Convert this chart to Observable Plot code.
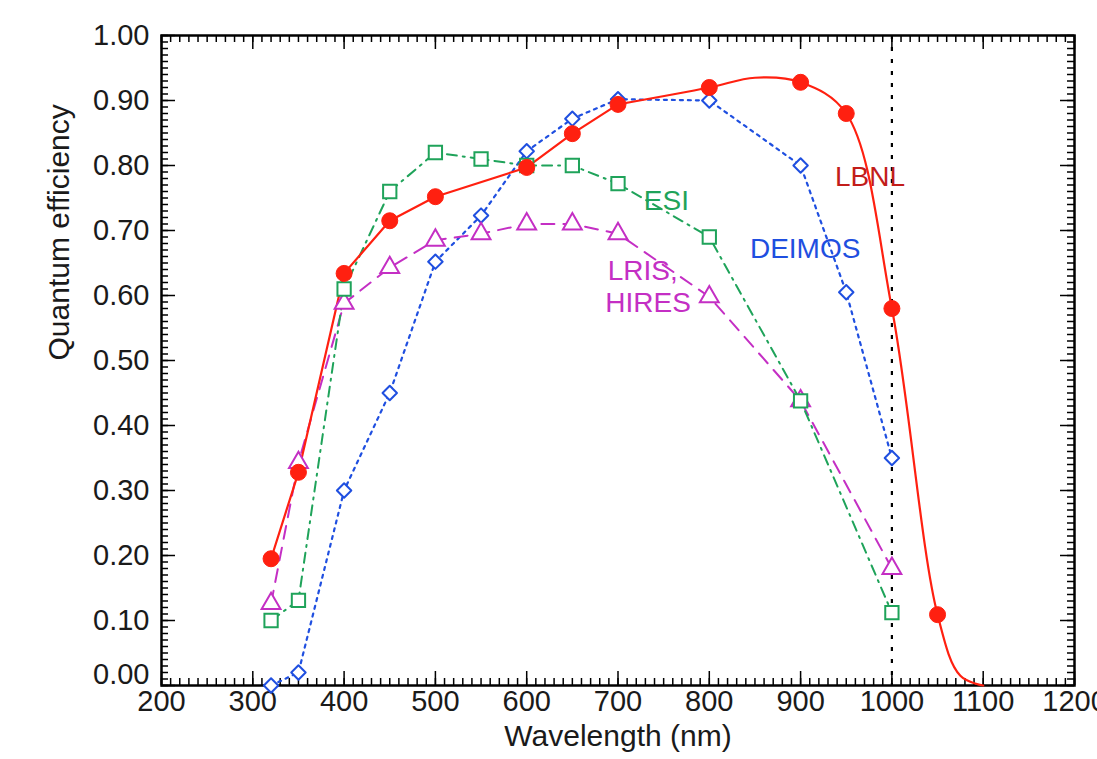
<!DOCTYPE html>
<html>
<head>
<meta charset="utf-8">
<script src="https://cdn.jsdelivr.net/npm/d3@7"></script>
<script src="https://cdn.jsdelivr.net/npm/@observablehq/plot@0.6"></script>
<style>
  html, body { margin: 0; padding: 0; background: #ffffff; }
  #chart svg { display: block; }
</style>
</head>
<body>
<div id="chart"></div>
<script>
// ---- Data ----
const lbnlWl = [320, 350, 400, 450, 500, 600, 650, 700, 800, 900, 950, 1000, 1050];
const lbnlQe = [0.195, 0.328, 0.634, 0.715, 0.752, 0.797, 0.849, 0.894, 0.920, 0.928, 0.880, 0.580, 0.109];
// extra points (no markers there)
const lbnlCurveWl = [850, 1075, 1100];
const lbnlCurveQe = [0.935, 0.015, 0.0];

const esiWl = [320, 350, 400, 450, 500, 550, 600, 650, 700, 800, 900, 1000];
const esiQe = [0.100, 0.131, 0.610, 0.760, 0.820, 0.810, 0.800, 0.800, 0.772, 0.690, 0.438, 0.112];

const lrisWl = [320, 350, 400, 450, 500, 550, 600, 650, 700, 800, 900, 1000];
const lrisQe = [0.126, 0.343, 0.588, 0.643, 0.685, 0.695, 0.710, 0.710, 0.695, 0.598, 0.438, 0.180];

const deimosWl = [320, 350, 400, 450, 500, 550, 600, 650, 700, 800, 900, 950, 1000];
const deimosQe = [0.000, 0.020, 0.300, 0.450, 0.652, 0.723, 0.822, 0.872, 0.902, 0.900, 0.800, 0.605, 0.350];

const cutoffWl = [1000];

const xMajorTicks = d3.range(200, 1201, 100);
const xMinorTicks = d3.range(200, 1201, 10);
const yMajorTicks = d3.range(0, 11).map(i => i / 10);
const yMinorTicks = d3.range(0, 101).map(i => i / 100);

const seriesLabels = [
  {name: "LBNL", wl: 976, qe: 0.782, color: "#c21d1a"},
  {name: "ESI", wl: 753, qe: 0.746, color: "#1fa35a"},
  {name: "DEIMOS", wl: 905, qe: 0.672, color: "#1f4fe0"},
  {name: "LRIS,", wl: 727, qe: 0.638, color: "#c42fc4"},
  {name: "HIRES", wl: 733, qe: 0.589, color: "#c42fc4"}
];

const colors = {lbnl: "#ff2010", esi: "#1fa35a", lris: "#c42fc4", deimos: "#1f4fe0"};

// ---- Build tables ----
const zip = (xs, ys) => xs.map((x, i) => ({wl: x, qe: ys[i]}));
const lbnl = zip(lbnlWl, lbnlQe);
const lbnlCurve = lbnl.concat(zip(lbnlCurveWl, lbnlCurveQe)).sort((a, b) => a.wl - b.wl);
const lbnlLow = lbnlCurve.filter(d => d.wl <= 700);   // straight segments in the blue
const lbnlHigh = lbnlCurve.filter(d => d.wl >= 700);  // smooth fit in the red / IR
const esi = zip(esiWl, esiQe);
const lris = zip(lrisWl, lrisQe);
const deimos = zip(deimosWl, deimosQe);

const W = 1097, H = 759;
const mL = 161, mR = 23, mT = 35, mB = 74;
const pw = W - mL - mR, ph = H - mT - mB;
const minorLen = 7, majorLen = 14;
const txt = "#1a1a1a";

const chart = Plot.plot({
  width: W,
  height: H,
  marginLeft: mL,
  marginRight: mR,
  marginTop: mT,
  marginBottom: mB,
  x: {domain: [200, 1200], axis: null},
  y: {domain: [0, 1], axis: null},
  style: {
    fontFamily: "'Liberation Sans', Arial, Helvetica, sans-serif",
    fontSize: "29px",
    background: "#ffffff",
    color: txt,
    overflow: "visible"
  },
  marks: [
    // inward ticks on all four sides
    Plot.tickX(xMinorTicks, {x: d => d, insetTop: ph - minorLen, stroke: "black", strokeWidth: 1.5}),
    Plot.tickX(xMajorTicks, {x: d => d, insetTop: ph - majorLen, stroke: "black", strokeWidth: 1.5}),
    Plot.tickX(xMinorTicks, {x: d => d, insetBottom: ph - minorLen, stroke: "black", strokeWidth: 1.5}),
    Plot.tickX(xMajorTicks, {x: d => d, insetBottom: ph - majorLen, stroke: "black", strokeWidth: 1.5}),
    Plot.tickY(yMinorTicks, {y: d => d, insetRight: pw - minorLen, stroke: "black", strokeWidth: 1.5}),
    Plot.tickY(yMajorTicks, {y: d => d, insetRight: pw - majorLen, stroke: "black", strokeWidth: 1.5}),
    Plot.tickY(yMinorTicks, {y: d => d, insetLeft: pw - minorLen, stroke: "black", strokeWidth: 1.5}),
    Plot.tickY(yMajorTicks, {y: d => d, insetLeft: pw - majorLen, stroke: "black", strokeWidth: 1.5}),
    Plot.frame({stroke: "black", strokeWidth: 2.5}),

    // tick labels
    Plot.text(xMajorTicks, {x: d => d, frameAnchor: "bottom", dy: 25, text: d => String(d), fill: txt}),
    Plot.text(yMajorTicks.filter(d => d > 0), {y: d => d, frameAnchor: "left", dx: -12, textAnchor: "end", text: d => d.toFixed(2), fill: txt}),
    Plot.text(yMajorTicks.filter(d => d === 0), {y: d => d, frameAnchor: "left", dx: -12, dy: -11, textAnchor: "end", text: d => d.toFixed(2), fill: txt}),

    // axis titles
    Plot.text(["Wavelength (nm)"], {frameAnchor: "bottom", dy: 60, text: d => d, fontSize: 30, fill: txt}),
    Plot.text(["Quantum efficiency"], {frameAnchor: "left", dx: -102, rotate: -90, text: d => d, fontSize: 30, fill: txt}),

    // 1000 nm cutoff
    Plot.ruleX(cutoffWl, {x: d => d, stroke: "black", strokeWidth: 2.2, strokeDasharray: "4,8"}),

    // series lines
    Plot.line(deimos, {x: "wl", y: "qe", stroke: colors.deimos, strokeWidth: 2.2, strokeDasharray: "3,5"}),
    Plot.line(lris, {x: "wl", y: "qe", stroke: colors.lris, strokeWidth: 2, strokeDasharray: "13,9"}),
    Plot.line(esi, {x: "wl", y: "qe", stroke: colors.esi, strokeWidth: 2, strokeDasharray: "10,6,2,6"}),
    Plot.line(lbnlLow, {x: "wl", y: "qe", stroke: colors.lbnl, strokeWidth: 2.2}),
    Plot.line(lbnlHigh, {x: "wl", y: "qe", stroke: colors.lbnl, strokeWidth: 2.2, curve: "catmull-rom"}),

    // markers
    Plot.dot(deimos, {x: "wl", y: "qe", symbol: "diamond2", r: 6.5, stroke: colors.deimos, strokeWidth: 2, fill: "white", strokeLinejoin: "round"}),
    Plot.dot(lris, {x: "wl", y: "qe", symbol: "triangle", r: 7, stroke: colors.lris, strokeWidth: 2, fill: "white"}),
    Plot.dot(esi, {x: "wl", y: "qe", symbol: "square", r: 7.5, stroke: colors.esi, strokeWidth: 2, fill: "white"}),
    Plot.dot(lbnl, {x: "wl", y: "qe", symbol: "circle", r: 8, fill: colors.lbnl, stroke: colors.lbnl, strokeWidth: 1}),

    // series labels
    Plot.text(seriesLabels, {x: "wl", y: "qe", text: "name", fill: d => d.color, fontSize: 28})
  ]
});

document.getElementById("chart").appendChild(chart);
</script>
</body>
</html>
